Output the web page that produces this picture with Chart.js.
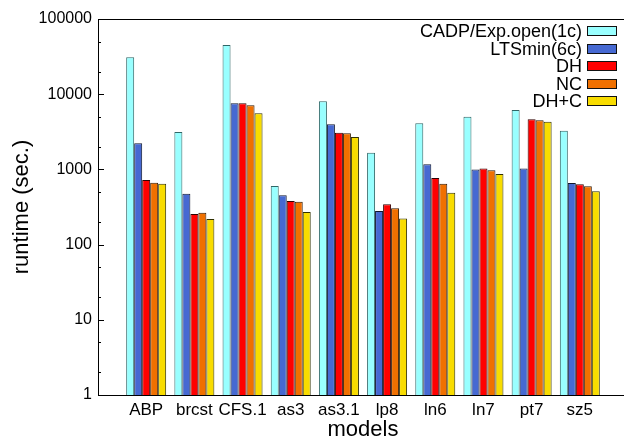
<!DOCTYPE html>
<html>
<head>
<meta charset="utf-8">
<script src="https://cdn.jsdelivr.net/npm/chart.js@4.4.1/dist/chart.umd.min.js"></script>
<style>
  html, body { margin: 0; padding: 0; background: #fff; overflow: hidden; }
  #wrap { position: relative; width: 640px; height: 442px; }
  #legend { position: absolute; right: 23px; top: 23px; font-family: "Liberation Sans", Arial, sans-serif; font-size: 18px; color: #000; }
  #legend div { height: 17.5px; line-height: 17.5px; text-align: right; white-space: nowrap; }
  #legend i { display: inline-block; width: 28px; height: 8px; border: 1px solid #111; margin-left: 5px; vertical-align: middle; position: relative; top: -1px; }
</style>
</head>
<body>
<div id="wrap">
  <canvas id="chart" width="640" height="442"></canvas>
  <div id="legend"></div>
</div>
<script>
const models = ['ABP', 'brcst', 'CFS.1', 'as3', 'as3.1', 'lp8', 'ln6', 'ln7', 'pt7', 'sz5'];
const seriesNames = ['CADP/Exp.open(1c)', 'LTSmin(6c)', 'DH', 'NC', 'DH+C'];
const cadp   = [31000, 3140, 45100, 600, 8040, 1670, 4100, 5020, 6160, 3270];
const ltsmin = [2220, 475, 7570, 452, 3980, 280, 1170, 1000, 1030, 659];
const dh     = [723, 255, 7570, 380, 3080, 344, 769, 1030, 4630, 634];
const nc     = [665, 266, 7120, 372, 3020, 304, 646, 972, 4500, 596];
const dhc    = [646, 219, 5570, 272, 2700, 223, 490, 869, 4300, 512];
const yTicks = [1, 2, 5, 10, 20, 50, 100, 200, 500, 1000, 2000, 5000, 10000, 20000, 50000, 100000];

const fills = ['#99ffff', '#4669d2', '#ff0000', '#f07000', '#f8dc00'];
const borders = ['#2f6666', '#101830', '#300000', '#301800', '#303000'];
const FONT = '"Liberation Sans", Arial, sans-serif';

const allSeries = [cadp, ltsmin, dh, nc, dhc];

// frame + inward tick marks, gnuplot style
const framePlugin = {
  id: 'frame',
  afterDraw(chart) {
    const { ctx, chartArea: a } = chart;
    const y = chart.scales.y;
    ctx.save();
    ctx.strokeStyle = '#000';
    ctx.lineWidth = 1;
    ctx.strokeRect(a.left + 0.5, a.top + 0.5, a.right - a.left, a.bottom - a.top);
    yTicks.forEach(v => {
      const py = Math.round(y.getPixelForValue(v)) + 0.5;
      const major = Math.log10(v) % 1 === 0;
      ctx.beginPath();
      ctx.moveTo(a.left, py);
      ctx.lineTo(a.left + (major ? 6 : 3), py);
      ctx.stroke();
    });
    ctx.restore();
  }
};

new Chart(document.getElementById('chart'), {
  type: 'bar',
  data: {
    datasets: allSeries.map((s, k) => ({
      label: seriesNames[k],
      data: s.map((v, i) => ({ x: i, y: v })),
      backgroundColor: fills[k],
      borderColor: borders[k],
      borderWidth: 1,
      categoryPercentage: 0.83,
      barPercentage: 1.0
    }))
  },
  options: {
    responsive: false,
    animation: false,
    layout: { padding: { top: 19, right: 12, left: 0, bottom: 0 } },
    plugins: {
      legend: { display: false },
      tooltip: { enabled: false }
    },
    scales: {
      x: {
        type: 'linear',
        min: -1,
        max: 10,
        offset: false,
        grid: { display: false, drawTicks: false },
        border: { display: false },
        afterFit: s => { s.height = 47; },
        afterBuildTicks: s => { s.ticks = models.map((m, i) => ({ value: i })); },
        ticks: {
          padding: 5,
          autoSkip: false,
          maxRotation: 0,
          color: '#000',
          font: { family: FONT, size: 17 },
          callback: v => models[v] || ''
        },
        title: {
          display: true,
          text: 'models',
          color: '#000',
          font: { family: FONT, size: 22, lineHeight: 1.1 },
          padding: { top: 0, bottom: 0 }
        }
      },
      y: {
        type: 'logarithmic',
        min: 1,
        max: 100000,
        grid: { display: false, drawTicks: false },
        border: { display: false },
        afterFit: s => { s.width = 98; },
        afterBuildTicks: s => { s.ticks = yTicks.map(v => ({ value: v })); },
        ticks: {
          padding: 6,
          autoSkip: false,
          color: '#000',
          font: { family: FONT, size: 16 },
          callback: v => (Math.log10(v) % 1 === 0 ? String(v) : '')
        },
        title: {
          display: true,
          text: 'runtime (sec.)',
          color: '#000',
          font: { family: FONT, size: 22, lineHeight: 1.1 },
          padding: { top: 10, bottom: 0 }
        }
      }
    }
  },
  plugins: [framePlugin]
});

// legend, box on the right of the label
const legendBox = document.getElementById('legend');
seriesNames.forEach((name, k) => {
  const row = document.createElement('div');
  row.innerHTML = `${name}<i style="background-color:${fills[k]}"></i>`;
  legendBox.appendChild(row);
});
</script>
</body>
</html>
